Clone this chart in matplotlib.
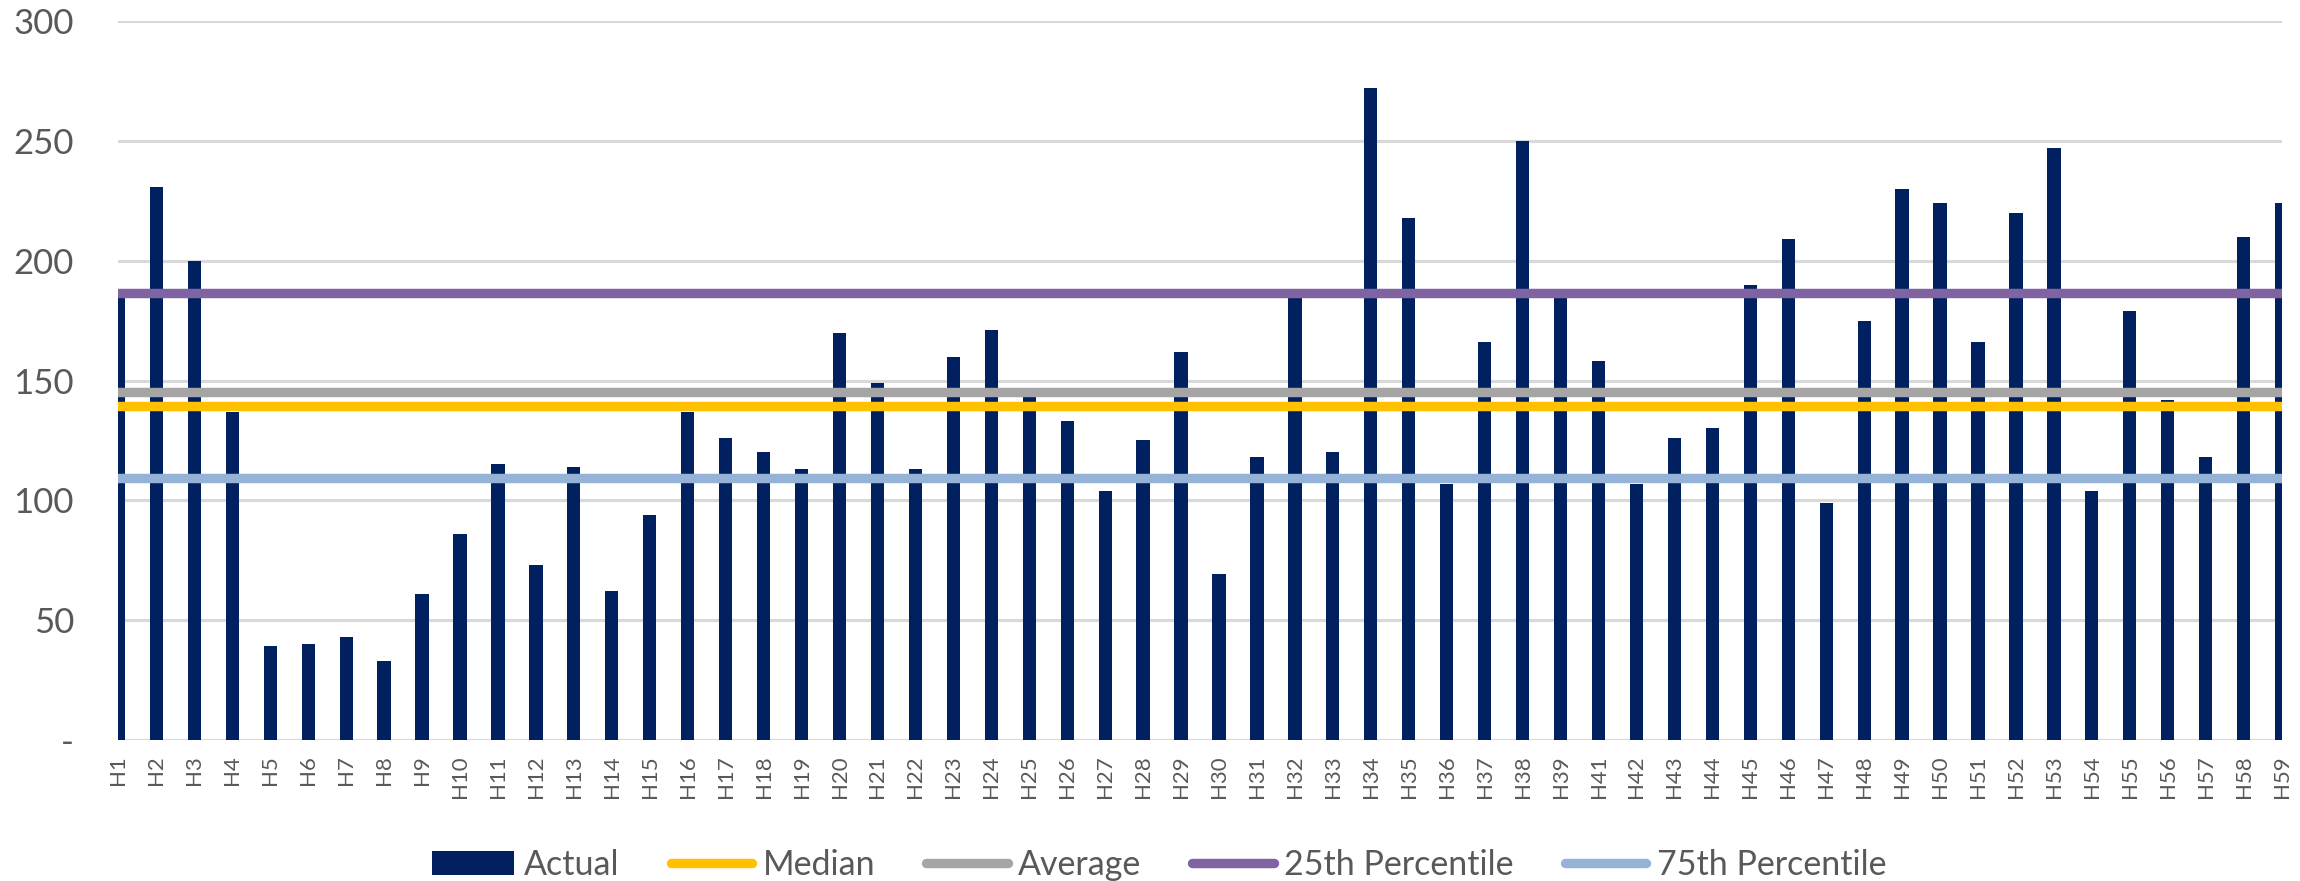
import numpy as np
import matplotlib.pyplot as plt

plt.rcParams['font.family'] = ['Lato', 'DejaVu Sans']

# Holes H1..H59 (H40 has no entry)
holes = ["H%d" % i for i in range(1, 60) if i != 40]
actual = [185, 231, 200, 137, 39, 40, 43, 33, 61, 86,
          115, 73, 114, 62, 94, 137, 126, 120, 113, 170,
          149, 113, 160, 171, 143, 133, 104, 125, 162, 69,
          118, 185, 120, 272, 218, 107, 166, 250, 185, 158,
          107, 126, 130, 190, 209, 99, 175, 230, 224, 166,
          220, 247, 104, 179, 142, 118, 210, 224]

median = 139.4
average = 145.3
pct25 = 186.5
pct75 = 109.3

y_ticks = [0, 50, 100, 150, 200, 250, 300]
y_tick_labels = ["-", "50", "100", "150", "200", "250", "300"]

navy = "#002060"
text_grey = "#595959"

fig = plt.figure(figsize=(23, 8.81), dpi=100)
ax = fig.add_axes([0.0515, 0.1604, 0.9405, 0.8153])

x = np.arange(len(holes))
ax.bar(x, actual, width=0.35, color=navy, label="Actual", zorder=2)

ref_lines = [
    (median, "#FFC000", "Median"),
    (average, "#A5A5A5", "Average"),
    (pct25, "#8064A2", "25th Percentile"),
    (pct75, "#95B3D7", "75th Percentile"),
]
for val, col, name in ref_lines:
    ax.axhline(val, color=col, linewidth=6.8, label=name, zorder=3,
               solid_capstyle="round")

ax.set_xlim(0, len(holes) - 1)
ax.set_ylim(0, 300)
ax.set_yticks(y_ticks)
ax.set_yticklabels(y_tick_labels)
ax.set_xticks(x)
ax.set_xticklabels(holes, rotation=90)

ax.grid(axis="y", color="#D9D9D9", linewidth=2.2, zorder=0)
ax.set_axisbelow(True)
for s in ax.spines.values():
    s.set_visible(False)

ax.tick_params(axis="y", length=0, pad=32, labelsize=25, labelcolor=text_grey)
ax.tick_params(axis="x", length=0, pad=11, labelsize=16, labelcolor=text_grey)

handles, labels = ax.get_legend_handles_labels()
order = ["Actual", "Median", "Average", "25th Percentile", "75th Percentile"]
hmap = dict(zip(labels, handles))
leg = fig.legend([hmap[k] for k in order], order, loc="center",
                 bbox_to_anchor=(0.504, 0.018), ncol=5, frameon=False,
                 fontsize=24.5, handlelength=2.4, handleheight=0.7,
                 handletextpad=0.3, columnspacing=1.5, borderpad=0)
for t in leg.get_texts():
    t.set_color(text_grey)

fig.savefig("out.png", dpi=100)
